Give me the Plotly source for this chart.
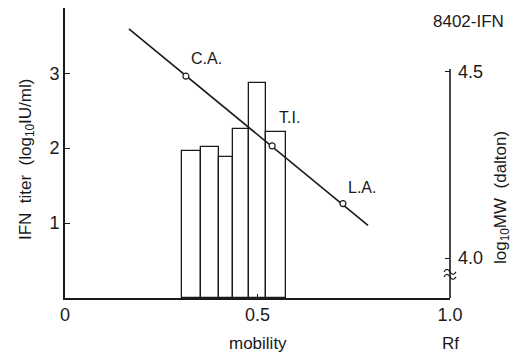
import plotly.graph_objects as go

# Histogram bars (IFN titer) : edges in mobility, heights in log10 IU/ml
bar_edges = [0.304, 0.353, 0.400, 0.436, 0.478, 0.522, 0.574]
bar_heights = [1.96, 2.01, 1.88, 2.25, 2.87, 2.21]

# Molecular weight markers
marker_names = ["C.A.", "T.I.", "L.A."]
marker_x = [0.314, 0.538, 0.722]
marker_y = [2.96, 2.03, 1.26]

# Calibration line end points
line_x = [0.166, 0.787]
line_y = [3.59, 0.97]

x_ticks = [0, 0.5, 1.0]
x_ticktext = ["0", "0.5", "1.0"]
y_ticks = [1, 2, 3]
y2_ticks = [4.0, 4.5]
y2_ticktext = ["4.0", "4.5"]

FONT = "Liberation Sans"
INK = "#1a1a1a"

centers = [(a + b) / 2 for a, b in zip(bar_edges[:-1], bar_edges[1:])]
widths = [b - a for a, b in zip(bar_edges[:-1], bar_edges[1:])]

fig = go.Figure()
fig.add_trace(go.Bar(x=centers, y=bar_heights, width=widths, base=0,
                     marker=dict(color="white", line=dict(color=INK, width=1.3)),
                     showlegend=False, hoverinfo="skip"))
fig.add_trace(go.Scatter(x=line_x, y=line_y, mode="lines",
                         line=dict(color=INK, width=1.6), showlegend=False))
fig.add_trace(go.Scatter(x=marker_x, y=marker_y, mode="markers",
                         marker=dict(symbol="circle", size=6, color="white",
                                     line=dict(color=INK, width=1.2)),
                         showlegend=False))
# invisible trace to activate yaxis2
fig.add_trace(go.Scatter(x=[None], y=[None], yaxis="y2", showlegend=False))

label_shift = [(21, 18), (17, 28), (19, 16)]
for name, x, y, (dx, dy) in zip(marker_names, marker_x, marker_y, label_shift):
    fig.add_annotation(x=x, y=y, text=name, showarrow=False, xshift=dx, yshift=dy,
                       xanchor="center", yanchor="middle",
                       font=dict(family=FONT, size=16, color=INK))

y2_range = [3.8925, 4.672]

fig.add_shape(type="line", xref="paper", yref="y2", x0=1, x1=1,
              y0=y2_range[0], y1=4.508, line=dict(color=INK, width=1.6))
# axis break mark
fig.add_shape(type="path", xref="paper", yref="y2", xsizemode="pixel",
              ysizemode="pixel", xanchor=1, yanchor=3.96,
              path="M -6 1 Q -3 6 0 1 Q 3 -4 6 1 M -6 -4 Q -3 1 0 -4 Q 3 -9 6 -4",
              line=dict(color=INK, width=1.2))

fig.add_annotation(xref="x", yref="paper", x=0.5, y=0, yshift=-45, text="mobility",
                   xanchor="center", yanchor="middle",
                   showarrow=False, font=dict(family=FONT, size=17, color=INK))
fig.add_annotation(xref="x", yref="paper", x=1.0, y=0, yshift=-45, text="Rf",
                   xanchor="center", yanchor="middle",
                   showarrow=False, font=dict(family=FONT, size=17, color=INK))
fig.add_annotation(xref="paper", yref="paper", x=-0.0987, y=0.479, textangle=-90,
                   xanchor="center", yanchor="middle",
                   text="IFN  titer  (log<sub>10</sub>IU/ml)", showarrow=False,
                   font=dict(family=FONT, size=17, color=INK))
fig.add_annotation(xref="paper", yref="paper", x=1.135, y=0.348, textangle=-90,
                   xanchor="center", yanchor="middle",
                   text="log<sub>10</sub>MW  (dalton)", showarrow=False,
                   font=dict(family=FONT, size=17, color=INK))
fig.add_annotation(xref="paper", yref="paper", x=1.049, y=0.955, text="8402-IFN",
                   xanchor="center", yanchor="middle",
                   showarrow=False, font=dict(family=FONT, size=17, color=INK))

fig.update_layout(
    width=513, height=348,
    margin=dict(l=57, r=71, t=0, b=58),
    paper_bgcolor="white", plot_bgcolor="white",
    bargap=0,
    xaxis=dict(range=[0, 1], tickvals=x_ticks, ticktext=x_ticktext,
               showline=True, linecolor=INK, linewidth=1.6, ticks="inside",
               ticklen=4, tickcolor=INK, showgrid=False, zeroline=False,
               ticklabelstandoff=0,
               tickfont=dict(family=FONT, size=18, color=INK)),
    yaxis=dict(range=[0, 3.87], tickvals=y_ticks, showline=True, linecolor=INK,
               linewidth=1.6, ticks="inside", ticklen=5, tickcolor=INK,
               showgrid=False, zeroline=False,
               tickfont=dict(family=FONT, size=18, color=INK)),
    yaxis2=dict(range=y2_range, overlaying="y", side="right", tickvals=y2_ticks,
                ticktext=y2_ticktext, showline=False, ticks="inside", ticklen=5,
                tickcolor=INK, showgrid=False, zeroline=False,
                ticklabelstandoff=7,
                tickfont=dict(family=FONT, size=18, color=INK)),
)

fig.write_html("out.html")
